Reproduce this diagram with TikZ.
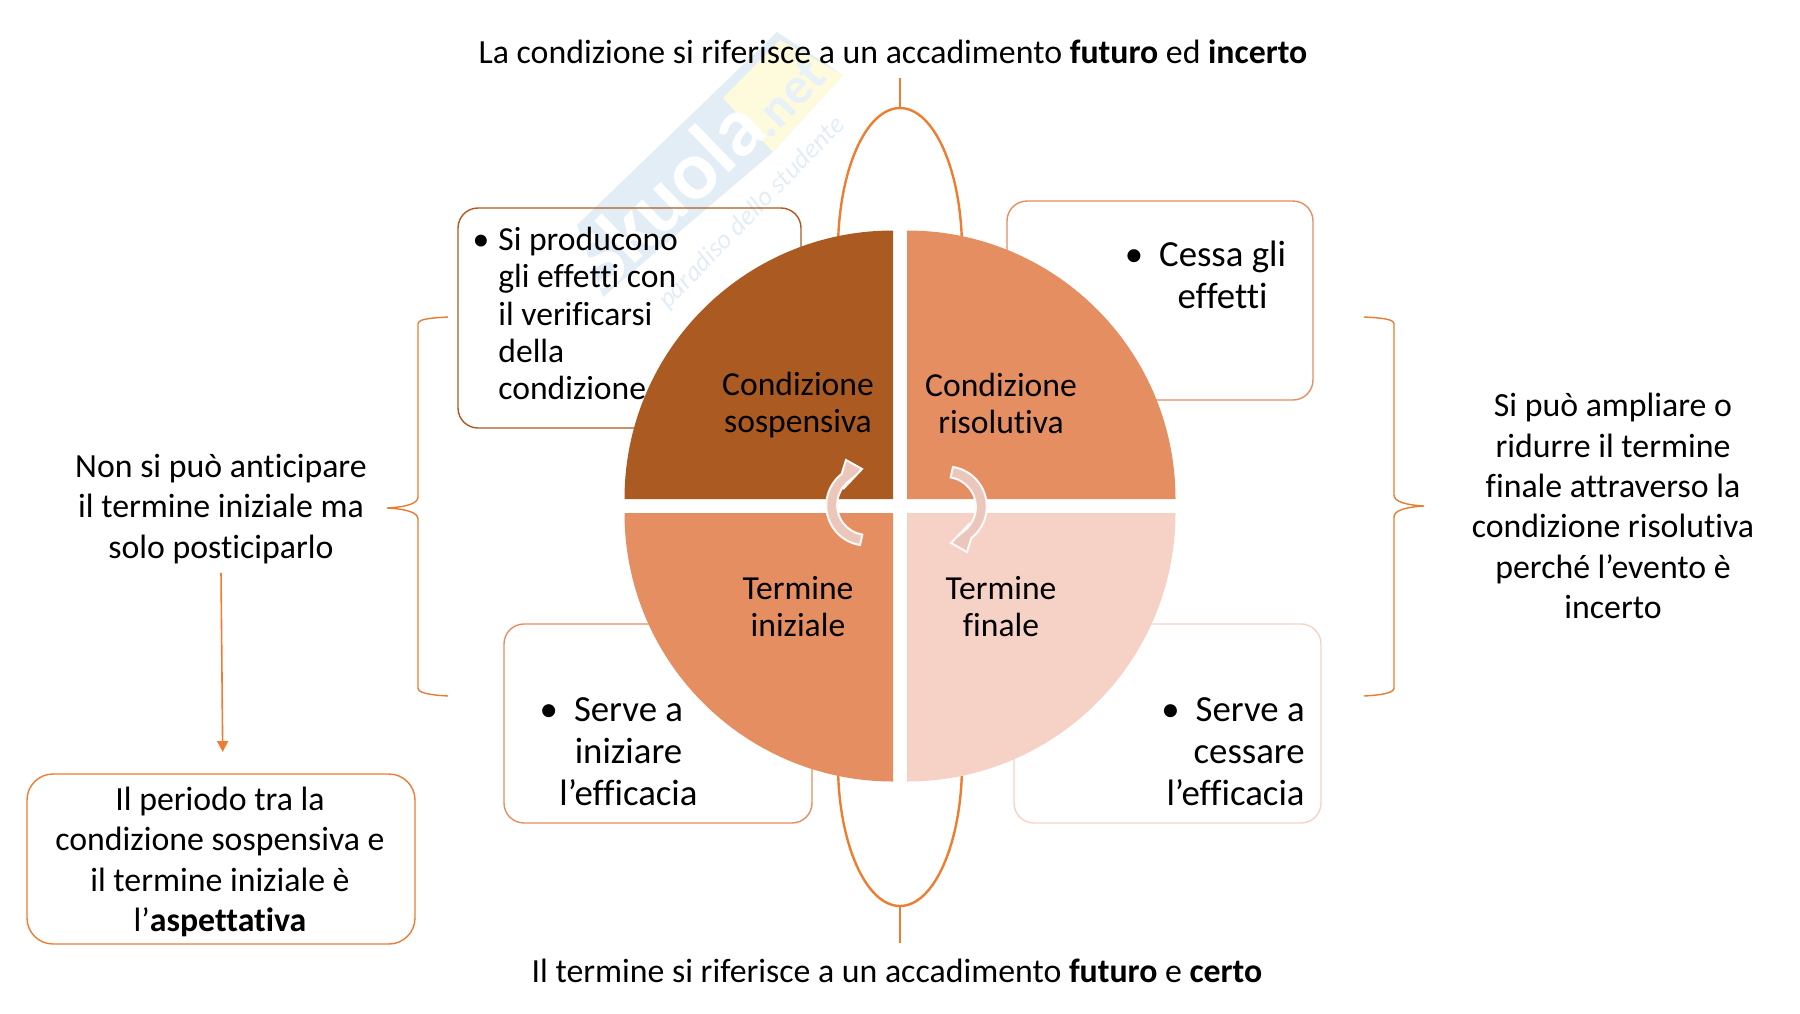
\documentclass[tikz,border=0pt]{standalone}
\usepackage{fontspec}
\setmainfont[Ligatures=NoCommon]{Carlito}
\usetikzlibrary{shapes.geometric,arrows.meta}
\definecolor{orangeline}{HTML}{ED7D31}
\definecolor{darkbrown}{HTML}{AB5A21}
\definecolor{midorange}{HTML}{E48E61}
\definecolor{palerose}{HTML}{F6D2C6}
\definecolor{turnfill}{HTML}{EBC6BB}
\definecolor{markblue}{HTML}{E3EDF6}
\definecolor{markyellow}{HTML}{FDFBDC}
\tikzset{
  notebox/.style={draw,rounded corners=10pt,line width=0.7pt},
  plain/.style={text=black,font=\fontsize{16.9}{20.2}\selectfont,align=center},
  quarter/.style={text=black,font=\fontsize{16.8}{18.6}\selectfont,align=center},
  boxtext/.style={text=black,font=\fontsize{18.4}{20.9}\selectfont,align=center},
  oval/.style={ellipse,draw=orangeline,line width=1.2pt,minimum width=62pt,minimum height=142pt,inner sep=0pt},
  brace/.style={draw=orangeline!85!brown,line width=0.7pt},
  turn/.style={fill=turnfill,draw=white!90!turnfill,line width=1pt}
}
\newcommand{\turnpath}{(860,545) arc[start angle=-99,end angle=-232,radius=20pt] -- (846,460) -- (862,469) -- (843,489) -- (849,481)
    arc[start angle=127,end angle=261,radius=15pt] -- cycle}
\begin{document}
\begin{tikzpicture}[x=0.5pt,y=-0.5pt]
  \useasboundingbox (0,0) rectangle (1800,1013);

  % watermark
  \fill[markblue] (577,225) -- (777,32) -- (843,75) -- (773,152) -- (603,297) -- cycle;
  \fill[markyellow] (723,98) -- (780,40) -- (843,75) -- (773,152) -- cycle;
  \node[text=white,rotate=44,font=\bfseries\fontsize{42}{42}\selectfont] (mark) at (667,193) {Skuola};
  \node[text=markblue!80!white,rotate=46,font=\bfseries\fontsize{26}{26}\selectfont] (marknet) at (788,98) {.net};
  \node[text=markblue,rotate=46,font=\itshape\fontsize{13.5}{13.5}\selectfont] (markline) at (752,213) {paradiso dello studente};

  % ovals behind the circle
  \node[oval] (ovaltop) at (900,250) {};
  \node[oval] (ovalbot) at (900,764) {};
  \coordinate (toptick) at (900,78);
  \coordinate (bottick) at (900,943);
  \draw[orangeline,line width=1.2pt] (toptick) -- (ovaltop.north);
  \draw[orangeline,line width=1.2pt] (bottick) -- (ovalbot.south);
  \fill[white] (893,300) rectangle (907,720);

  \node[notebox,draw=darkbrown,minimum width=171.5pt,minimum height=110pt] (boxsosp) at (629.5,318) {};
  \node[notebox,draw=midorange,minimum width=153pt,minimum height=99.5pt] (boxris) at (1160,300.5) {};
  \node[notebox,draw=midorange,minimum width=154pt,minimum height=99.5pt] (boxini) at (658,723.5) {};
  \node[notebox,draw=palerose,minimum width=153.5pt,minimum height=99.5pt] (boxfin) at (1167.5,723.5) {};

  % the four quarters
  \fill[darkbrown] (893,499) -- (624.5,499) arc[start angle=180,end angle=90,radius=134.25pt] -- cycle;
  \fill[midorange] (907,499) -- (907,230.5) arc[start angle=90,end angle=0,radius=134.25pt] -- cycle;
  \fill[midorange] (893,513) -- (893,781.5) arc[start angle=270,end angle=180,radius=134.25pt] -- cycle;
  \fill[palerose] (907,513) -- (1175.5,513) arc[start angle=0,end angle=-90,radius=134.25pt] -- cycle;

  \node[quarter] (sosp) at (798,405) {Condizione\\sospensiva};
  \node[quarter] (ris) at (1001,403.5) {Condizione\\risolutiva};
  \node[quarter] (ini) at (798,606.5) {Termine\\iniziale};
  \node[quarter] (fin) at (1001,606.5) {Termine\\finale};

  % turning arrows
  \draw[turn] \turnpath;
  \begin{scope}[rotate around={180:(906.5,506)}]
    \draw[turn] \turnpath;
  \end{scope}

  % texts in the boxes
  \node[quarter,anchor=north west,align=left,inner sep=0pt] (txtsosp) at (498,227)
    {\llap{\textbullet\hspace{4.5pt}}Si producono\\gli effetti con\\il verificarsi\\della\\condizione};
  \node[boxtext] (txtris) at (1222.6,274.7) {\llap{\textbullet\hspace{8pt}}Cessa gli\\effetti};
  \node[boxtext] (txtini) at (628.5,751.6) {\llap{\textbullet\hspace{8pt}}Serve a\\iniziare\\l’efficacia};
  \node[boxtext,align=right,anchor=east,inner sep=0pt] (txtfin) at (1305,751.6) {\llap{\textbullet\hspace{8pt}}Serve a\\cessare\\l’efficacia};

  \node[plain] (lacond) at (893,52) {La condizione si riferisce a un accadimento \textbf{futuro} ed \textbf{incerto}};
  \node[plain] (iltermine) at (897,971) {Il termine si riferisce a un accadimento \textbf{futuro} e \textbf{certo}};
  \node[plain] (left) at (221,509) {Non si può anticipare\\il termine iniziale ma\\solo posticiparlo};
  \node[plain] (right) at (1613,506) {Si può ampliare o\\ridurre il termine\\finale attraverso la\\condizione risolutiva\\perché l’evento è\\incerto};
  \node[notebox,draw=orangeline,minimum width=194pt,minimum height=85pt,rounded corners=13pt] (period) at (221,859) {};
  \node[plain] (periodtext) at (220,862)
    {Il periodo tra la\\condizione sospensiva e\\il termine iniziale è\\l’\textbf{aspettativa}};

  \coordinate (arrowend) at (222.7,752);
  \draw[orangeline,line width=0.8pt,shorten <=1pt,-{Triangle[length=5.5pt,width=5.5pt]}] (left.south) -- (arrowend);

  % braces
  \draw[brace] (448,317) .. controls (430,318) and (418,319) .. (418,324) -- (418,497) .. controls (418,504) and (405,507) .. (387,508)
    .. controls (405,509) and (418,512) .. (418,519) -- (418,688) .. controls (418,693) and (430,695) .. (448,696);
  \draw[brace] (1364,317) .. controls (1382,318) and (1394,319) .. (1394,324) -- (1394,495) .. controls (1394,502) and (1407,505) .. (1424,506)
    .. controls (1407,507) and (1394,510) .. (1394,517) -- (1394,688) .. controls (1394,693) and (1382,695) .. (1364,696);
\end{tikzpicture}
\end{document}
